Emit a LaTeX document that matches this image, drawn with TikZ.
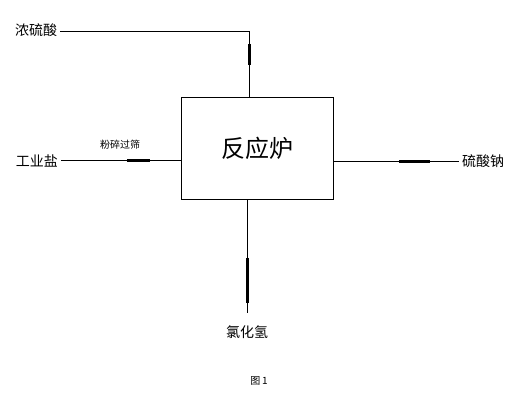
\documentclass[tikz,border=0pt]{standalone}
\usepackage{fontspec}
\newfontfamily\cjk{Noto Sans CJK SC}
\usepackage{tikz}
\usetikzlibrary{calc,positioning}

\begin{document}
\begin{tikzpicture}[x=1pt,y=1pt]
\tikzset{
  flow/.style={draw=black,line width=0.6pt},
  feed/.style={draw=black,line width=2.4pt},
  lbl/.style={font=\cjk\fontsize{14}{14}\selectfont,inner sep=3pt},
  note/.style={font=\cjk\fontsize{10}{10}\selectfont,inner sep=0pt}
}
\path[use as bounding box,fill=white] (0,0) rectangle (516,401);

% reactor
\node[draw,line width=0.6pt,minimum width=151.6,minimum height=101.7,inner sep=0pt,
  font=\cjk\fontsize{24}{24}\selectfont] (furnace) at (257.5,252.9) {反应炉};

% labels
\node[lbl] (acid) at (36,371) {浓硫酸};
\node[lbl] (salt) at (37,240.5) {工业盐};
\node[lbl] (sulfate) at (483,239.5) {硫酸钠};
\node[lbl] (hcl) at (247,69) {氯化氢};
\node[note] (grind) at (120,256) {粉碎过筛};
\node[note] (caption) at (259,20) {图\,1};

\coordinate (acidCorner) at (249.3,370);
\coordinate (hclEnd) at (247.3,88);

% connectors
\path[flow] (acid.east |- acidCorner) -- (acidCorner) -- (acidCorner |- furnace.north);
\path[flow] (salt.east) -- (salt.east -| furnace.west);
\path[flow] (furnace.east |- sulfate.west) -- (sulfate.west);
\path[flow] (hclEnd |- furnace.south) -- (hclEnd);

% thick marks
\path[feed] (249.3,357) -- (249.3,336);
\path[feed] (127,240.5) -- (150,240.5);
\path[feed] (399,239.5) -- (430,239.5);
\path[feed] (247.3,143) -- (247.3,98);
\end{tikzpicture}
\end{document}
